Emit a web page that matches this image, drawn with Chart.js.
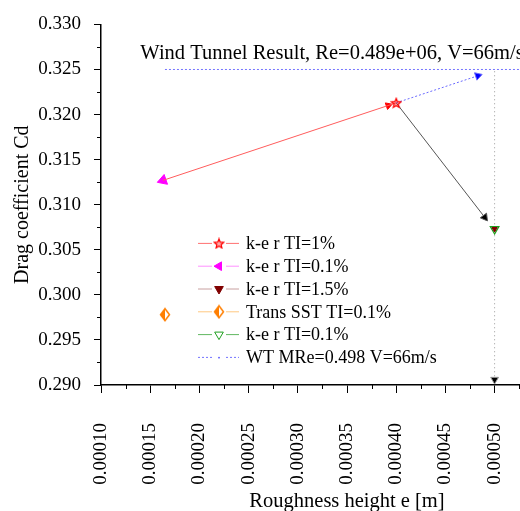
<!DOCTYPE html>
<html lang="en">
<head>
<meta charset="UTF-8">
<title>Drag coefficient vs roughness height</title>
<script src="https://cdn.jsdelivr.net/npm/chart.js@4"></script>
<style>
  html, body { margin: 0; padding: 0; background: #fff; overflow: hidden; }
  #wrap { width: 520px; height: 511px; overflow: hidden; }
</style>
</head>
<body>
<div id="wrap"><canvas id="dragChart" width="600" height="511"></canvas></div>
<script>
// values: roughness height e [m] vs drag coefficient Cd
const keTI1X = [0.000163, 0.0004];
const keTI1Y = [0.3127, 0.3213];
const keTI01X = [0.000163];
const keTI01Y = [0.3127];
const keTI15X = [0.0005];
const keTI15Y = [0.3073];
const sstX = [0.000165];
const sstY = [0.2978];
const keTI01bX = [0.0005];
const keTI01bY = [0.3073];
const wtX = [0.000165, 0.0006];
const wtY = [0.325, 0.325];

// arrows drawn on the figure
const arrowRedX = [0.000392];
const arrowRedY = [0.3210];
const arrowBlueX = [0.0004, 0.000483];
const arrowBlueY = [0.3213, 0.3243];
const arrowBlackX = [0.0004, 0.00049];
const arrowBlackY = [0.3213, 0.3086];
const guideX = [0.0005, 0.0005];
const guideY = [0.3248, 0.2906];

// axes
const xMin = 0.0001, xMax = 0.0006, xStep = 0.00005;
const yMin = 0.29, yMax = 0.33, yStep = 0.005;

const noteText = 'Wind Tunnel Result, Re=0.489e+06, V=66m/s';
const noteAt = { x: 0.00014, y: 0.3268 };

const serif = 'Liberation Serif';
const pts = (xs, ys) => xs.map((x, i) => ({ x: x, y: ys[i] }));

// custom marker images
function starImage() {
    const c = document.createElement('canvas');
    c.width = 12; c.height = 12;
    const g = c.getContext('2d');
    g.beginPath();
    for (let i = 0; i < 10; i++) {
        const r = i % 2 === 0 ? 5 : 2.2;
        const a = -Math.PI / 2 + i * Math.PI / 5;
        const px = 6 + r * Math.cos(a), py = 6.5 + r * Math.sin(a);
        if (i === 0) g.moveTo(px, py); else g.lineTo(px, py);
    }
    g.closePath();
    g.fillStyle = 'rgba(255,0,0,0.35)';
    g.fill();
    g.strokeStyle = '#ff0000';
    g.lineWidth = 1.2;
    g.stroke();
    return c;
}

function halfDiamondImage() {
    const c = document.createElement('canvas');
    c.width = 12; c.height = 15;
    const g = c.getContext('2d');
    g.beginPath();
    g.moveTo(6, 1.5); g.lineTo(6, 13.5); g.lineTo(1.5, 7.5); g.closePath();
    g.fillStyle = '#ff7f00';
    g.fill();
    g.beginPath();
    g.moveTo(6, 1.5); g.lineTo(10.5, 7.5); g.lineTo(6, 13.5); g.lineTo(1.5, 7.5); g.closePath();
    g.strokeStyle = '#ff7f00';
    g.lineWidth = 1.5;
    g.stroke();
    return c;
}

const starImg = starImage();
const diamondImg = halfDiamondImage();

const datasets = [
    {
        label: 'k-e r TI=1%',
        data: pts(keTI1X, keTI1Y),
        showLine: true,
        borderColor: '#ff5c5c',
        backgroundColor: '#ff0000',
        borderWidth: 1,
        pointStyle: starImg,
        pointRadius: [0, 6],
        inLegend: true,
        legendColor: '#ff7070'
    },
    {
        label: 'k-e r TI=0.1%',
        data: pts(keTI01X, keTI01Y),
        borderColor: '#ff00ff',
        backgroundColor: '#ff00ff',
        pointStyle: 'triangle',
        rotation: 251,
        pointRadius: 6,
        borderWidth: 1,
        inLegend: true,
        legendColor: '#ff90ff',
        legendRotation: 270
    },
    {
        label: 'k-e r TI=1.5%',
        data: pts(keTI15X, keTI15Y),
        borderColor: '#800000',
        backgroundColor: '#800000',
        pointStyle: 'triangle',
        rotation: 180,
        pointRadius: 3,
        borderWidth: 1,
        inLegend: true,
        legendColor: '#c8a0a0'
    },
    {
        label: 'Trans SST TI=0.1%',
        data: pts(sstX, sstY),
        borderColor: '#ff7f00',
        backgroundColor: '#ff7f00',
        pointStyle: diamondImg,
        pointRadius: 6,
        inLegend: true,
        legendColor: '#ffc880'
    },
    {
        label: 'k-e r TI=0.1%',
        data: pts(keTI01bX, keTI01bY),
        borderColor: '#1f9f1f',
        backgroundColor: 'rgba(0,0,0,0)',
        pointStyle: 'triangle',
        rotation: 180,
        pointRadius: 5,
        borderWidth: 1.2,
        inLegend: true,
        legendColor: '#60b860'
    },
    {
        label: 'WT MRe=0.498 V=66m/s',
        data: pts(wtX, wtY),
        showLine: true,
        borderColor: '#7474ff',
        backgroundColor: '#7474ff',
        borderWidth: 1,
        borderDash: [2, 2],
        pointRadius: 0,
        inLegend: true,
        legendColor: '#7474ff',
        legendDot: true
    },
    {
        label: 'arrow red',
        data: pts(arrowRedX, arrowRedY),
        borderColor: '#ff0000',
        backgroundColor: '#ff0000',
        pointStyle: 'triangle',
        rotation: 71,
        pointRadius: 4,
        borderWidth: 1
    },
    {
        label: 'arrow blue',
        data: pts(arrowBlueX, arrowBlueY),
        showLine: true,
        borderColor: '#6a6aff',
        backgroundColor: '#0000ff',
        borderWidth: 1,
        borderDash: [2, 2],
        pointStyle: 'triangle',
        rotation: 72,
        pointRadius: [0, 4.5]
    },
    {
        label: 'arrow black',
        data: pts(arrowBlackX, arrowBlackY),
        showLine: true,
        borderColor: '#555555',
        backgroundColor: '#000000',
        borderWidth: 1,
        pointStyle: 'triangle',
        rotation: 143,
        pointRadius: [0, 4.5]
    },
    {
        label: 'guide',
        data: pts(guideX, guideY),
        showLine: true,
        borderColor: '#999999',
        backgroundColor: '#000000',
        borderWidth: 1,
        borderDash: [1, 3],
        pointStyle: 'triangle',
        rotation: 180,
        pointRadius: [0, 4.5]
    }
];

// short minor ticks halfway between the labelled ones
const minorTicks = {
    id: 'minorTicks',
    afterDraw(chart) {
        const { ctx, scales: { x, y } } = chart;
        ctx.save();
        ctx.strokeStyle = '#000';
        ctx.lineWidth = 1;
        ctx.beginPath();
        for (let v = xMin + xStep / 2; v < xMax; v += xStep) {
            const px = Math.round(x.getPixelForValue(v)) + 0.5;
            ctx.moveTo(px, x.top);
            ctx.lineTo(px, x.top + 4);
        }
        for (let v = yMin + yStep / 2; v < yMax; v += yStep) {
            const py = Math.round(y.getPixelForValue(v)) + 0.5;
            ctx.moveTo(y.right, py);
            ctx.lineTo(y.right - 4, py);
        }
        ctx.stroke();
        ctx.restore();
    }
};

// "Wind Tunnel Result" note above the WT line
const note = {
    id: 'note',
    afterDraw(chart) {
        const { ctx, scales: { x, y } } = chart;
        ctx.save();
        ctx.font = '20.5px "' + serif + '"';
        ctx.fillStyle = '#000';
        ctx.textAlign = 'left';
        ctx.textBaseline = 'middle';
        ctx.fillText(noteText, x.getPixelForValue(noteAt.x), y.getPixelForValue(noteAt.y));
        ctx.restore();
    }
};

// legend box inside the plot area
const insideLegend = {
    id: 'insideLegend',
    afterDraw(chart) {
        const { ctx, chartArea } = chart;
        const left = chartArea.left + 97;
        const top = chartArea.top + 219;
        const row = 22.8;
        ctx.save();
        ctx.font = '18px "' + serif + '"';
        ctx.textAlign = 'left';
        ctx.textBaseline = 'middle';
        chart.data.datasets.filter(ds => ds.inLegend).forEach((ds, i) => {
            const yy = top + i * row;
            const mid = left + 21;
            ctx.strokeStyle = ds.legendColor;
            ctx.lineWidth = 1;
            ctx.setLineDash(ds.borderDash || []);
            ctx.beginPath();
            ctx.moveTo(left, yy); ctx.lineTo(mid - 7, yy);
            ctx.moveTo(mid + 7, yy); ctx.lineTo(left + 41, yy);
            ctx.stroke();
            ctx.setLineDash([]);
            if (ds.legendDot) {
                ctx.fillStyle = ds.borderColor;
                ctx.fillRect(mid - 1, yy - 0.5, 2, 1.5);
            } else {
                ctx.fillStyle = ds.backgroundColor;
                ctx.strokeStyle = ds.borderColor;
                Chart.helpers.drawPoint(ctx, {
                    pointStyle: ds.pointStyle,
                    rotation: ds.legendRotation !== undefined ? ds.legendRotation : (ds.rotation || 0),
                    radius: 5,
                    borderWidth: 1
                }, mid, yy);
            }
            ctx.fillStyle = '#000';
            ctx.fillText(ds.label, left + 48, yy + 1);
        });
        ctx.restore();
    }
};

new Chart(document.getElementById('dragChart'), {
    type: 'scatter',
    data: { datasets: datasets },
    options: {
        responsive: false,
        animation: false,
        layout: { padding: { top: 20, right: 5, left: 0, bottom: 0 } },
        plugins: {
            legend: { display: false },
            tooltip: { enabled: false }
        },
        scales: {
            x: {
                type: 'linear',
                min: xMin,
                max: xMax,
                afterFit: s => { s.height = 126; s.paddingLeft = 0; s.paddingRight = 0; },
                ticks: {
                    stepSize: xStep,
                    autoSkip: false,
                    maxRotation: 90,
                    minRotation: 90,
                    padding: 30,
                    color: '#000',
                    font: { family: serif, size: 19 },
                    callback: v => v.toFixed(5)
                },
                grid: { drawOnChartArea: false, tickLength: 8, color: '#000' },
                border: { color: '#000', width: 1.5 },
                title: {
                    display: true,
                    text: 'Roughness height e [m]',
                    color: '#000',
                    font: { family: serif, size: 20.5 },
                    padding: { top: 0, bottom: -3 }
                }
            },
            y: {
                min: yMin,
                max: yMax,
                afterFit: s => { s.width = 101; },
                ticks: {
                    stepSize: yStep,
                    padding: 13,
                    color: '#000',
                    font: { family: serif, size: 19 },
                    callback: v => v.toFixed(3)
                },
                grid: { drawOnChartArea: false, tickLength: 7, color: '#000' },
                border: { color: '#000', width: 1.5 },
                title: {
                    display: true,
                    text: 'Drag coefficient Cd',
                    color: '#000',
                    font: { family: serif, size: 20 },
                    padding: { top: 11, bottom: 0 }
                }
            }
        }
    },
    plugins: [minorTicks, note, insideLegend]
});
</script>
</body>
</html>
